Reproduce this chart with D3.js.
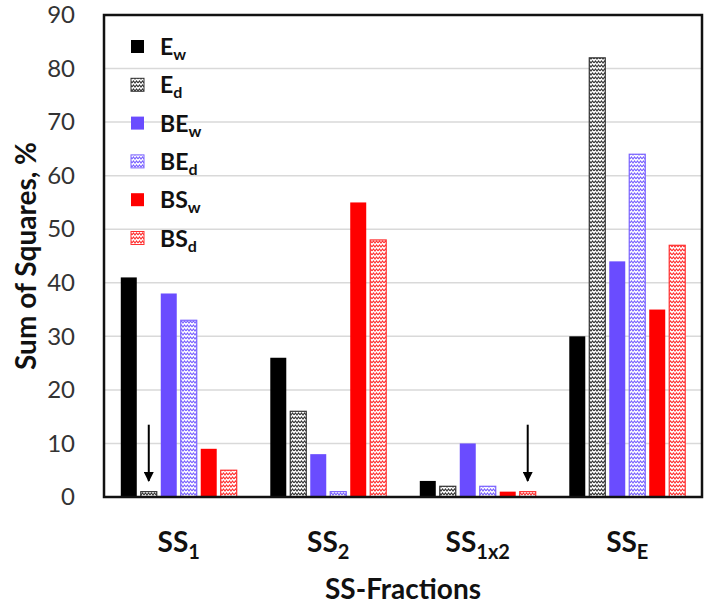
<!DOCTYPE html>
<html><head><meta charset="utf-8">
<script src="https://cdn.jsdelivr.net/npm/d3@7"></script>
<style>body{margin:0;background:#fff}svg{display:block}</style>
</head><body><svg id="c" width="709" height="606"></svg>
<script>
const categories = ["SS1","SS2","SS1x2","SSE"];
const categoryMain = ["SS","SS","SS","SS"];
const categorySub = ["1","2","1x2","E"];
const seriesKeys = ["Ew","Ed","BEw","BEd","BSw","BSd"];
const seriesMain = ["E","E","BE","BE","BS","BS"];
const seriesSub = ["w","d","w","d","w","d"];
const Ew  = [41, 26, 3, 30];
const Ed  = [1, 16, 2, 82];
const BEw = [38, 8, 10, 44];
const BEd = [33, 1, 2, 64];
const BSw = [9, 55, 1, 35];
const BSd = [5, 48, 1, 47];
const yTicks = [0,10,20,30,40,50,60,70,80,90];
// arrow annotations: [category, series, fromValue, toValue]
const arrows = [["SS1","Ed",13.5,3],["SS1x2","BSd",13.5,3]];

const seriesValues = [Ew,Ed,BEw,BEd,BSw,BSd];
const colors = ["#000000","#333333","#6a4cff","#7a62ff","#ff0000","#ff3030"];
const patterned = [false,true,false,true,false,true];

const svg = d3.select("#c");
const L=104,R=702,T=15,B=497;
const font = "Lato, 'Open Sans', sans-serif";

const x0 = d3.scaleBand().domain(categories).range([L,R]).padding(0);
const x1 = d3.scaleBand().domain(seriesKeys).range([0,x0.bandwidth()]).paddingInner(0.2).paddingOuter(0.84);
const y = d3.scaleLinear().domain([0,90]).range([B,T]);

// patterns
const defs = svg.append("defs");
seriesKeys.forEach((k,i)=>{
  if(!patterned[i]) return;
  const p = defs.append("pattern").attr("id","pat-"+k).attr("patternUnits","userSpaceOnUse")
    .attr("width",6).attr("height",4);
  p.append("rect").attr("width",6).attr("height",4).attr("fill","#fff");
  p.append("path").attr("d","M0,3 L1.5,1 L3,3 L4.5,1 L6,3").attr("fill","none")
    .attr("stroke",colors[i]).attr("stroke-width",1.1);
});
const mk = defs.append("marker").attr("id","arr").attr("viewBox","0 0 10 10").attr("refX",9).attr("refY",5)
  .attr("markerWidth",5).attr("markerHeight",5).attr("orient","auto");
mk.append("path").attr("d","M0,0 L10,5 L0,10 z").attr("fill","#000");

// gridlines
svg.append("g").selectAll("line").data(yTicks.filter(d=>d>0&&d<90)).join("line")
  .attr("x1",L).attr("x2",R).attr("y1",d=>y(d)).attr("y2",d=>y(d))
  .attr("stroke","#d9d9d9").attr("stroke-width",1.5);

// bars
const g = svg.append("g");
categories.forEach((c,ci)=>{
  seriesKeys.forEach((k,si)=>{
    const v = seriesValues[si][ci];
    const r = g.append("rect")
      .attr("x",x0(c)+x1(k)).attr("width",x1.bandwidth())
      .attr("y",y(v)).attr("height",y(0)-y(v));
    if(patterned[si]) r.attr("fill","url(#pat-"+k+")").attr("stroke",colors[si]).attr("stroke-width",1.2);
    else r.attr("fill",colors[si]);
  });
});

// arrows
arrows.forEach(a=>{
  const xc = x0(a[0])+x1(a[1])+x1.bandwidth()/2;
  svg.append("line").attr("x1",xc).attr("x2",xc).attr("y1",y(a[2])).attr("y2",y(a[3]))
    .attr("stroke","#000").attr("stroke-width",2).attr("marker-end","url(#arr)");
});

// frame
svg.append("rect").attr("x",L).attr("y",T).attr("width",R-L).attr("height",B-T)
  .attr("fill","none").attr("stroke","#111").attr("stroke-width",2.5);

// y tick labels
const yAxis = d3.axisLeft(y).tickValues(yTicks).tickSize(0).tickPadding(29);
const ya = svg.append("g").attr("transform",`translate(${L},0)`).call(yAxis);
ya.select(".domain").remove();
ya.selectAll("text").attr("font-family",font).attr("font-size",24).attr("fill","#333");

// y title
svg.append("text").attr("transform",`translate(36,${(T+B)/2}) rotate(-90)`).attr("text-anchor","middle")
  .attr("font-family",font).attr("font-size",28).attr("font-weight","bold").attr("fill","#111")
  .text("Sum of Squares, %");

// x labels
categories.forEach((c,ci)=>{
  const t = svg.append("text").attr("x",x0(c)+x0.bandwidth()/2).attr("y",552).attr("text-anchor","middle")
    .attr("font-family",font).attr("font-size",28).attr("font-weight","bold").attr("fill","#111");
  t.append("tspan").text(categoryMain[ci]);
  t.append("tspan").attr("dy",7).attr("font-size",20).text(categorySub[ci]);
});
svg.append("text").attr("x",(L+R)/2).attr("y",599).attr("text-anchor","middle")
  .attr("font-family",font).attr("font-size",28).attr("font-weight","bold").attr("fill","#111")
  .text("SS-Fractions");

// legend
const lg = svg.append("g");
seriesKeys.forEach((k,i)=>{
  const yy = 47 + i*38.3;
  const r = lg.append("rect").attr("x",131).attr("y",yy-7).attr("width",13).attr("height",13);
  if(patterned[i]) r.attr("fill","url(#pat-"+k+")").attr("stroke",colors[i]).attr("stroke-width",1);
  else r.attr("fill",colors[i]);
  const t = lg.append("text").attr("x",160).attr("y",yy+8)
    .attr("font-family",font).attr("font-size",23).attr("font-weight","bold").attr("fill","#111");
  t.append("tspan").text(seriesMain[i]);
  t.append("tspan").attr("dy",5).attr("font-size",16).text(seriesSub[i]);
});
</script></body></html>
